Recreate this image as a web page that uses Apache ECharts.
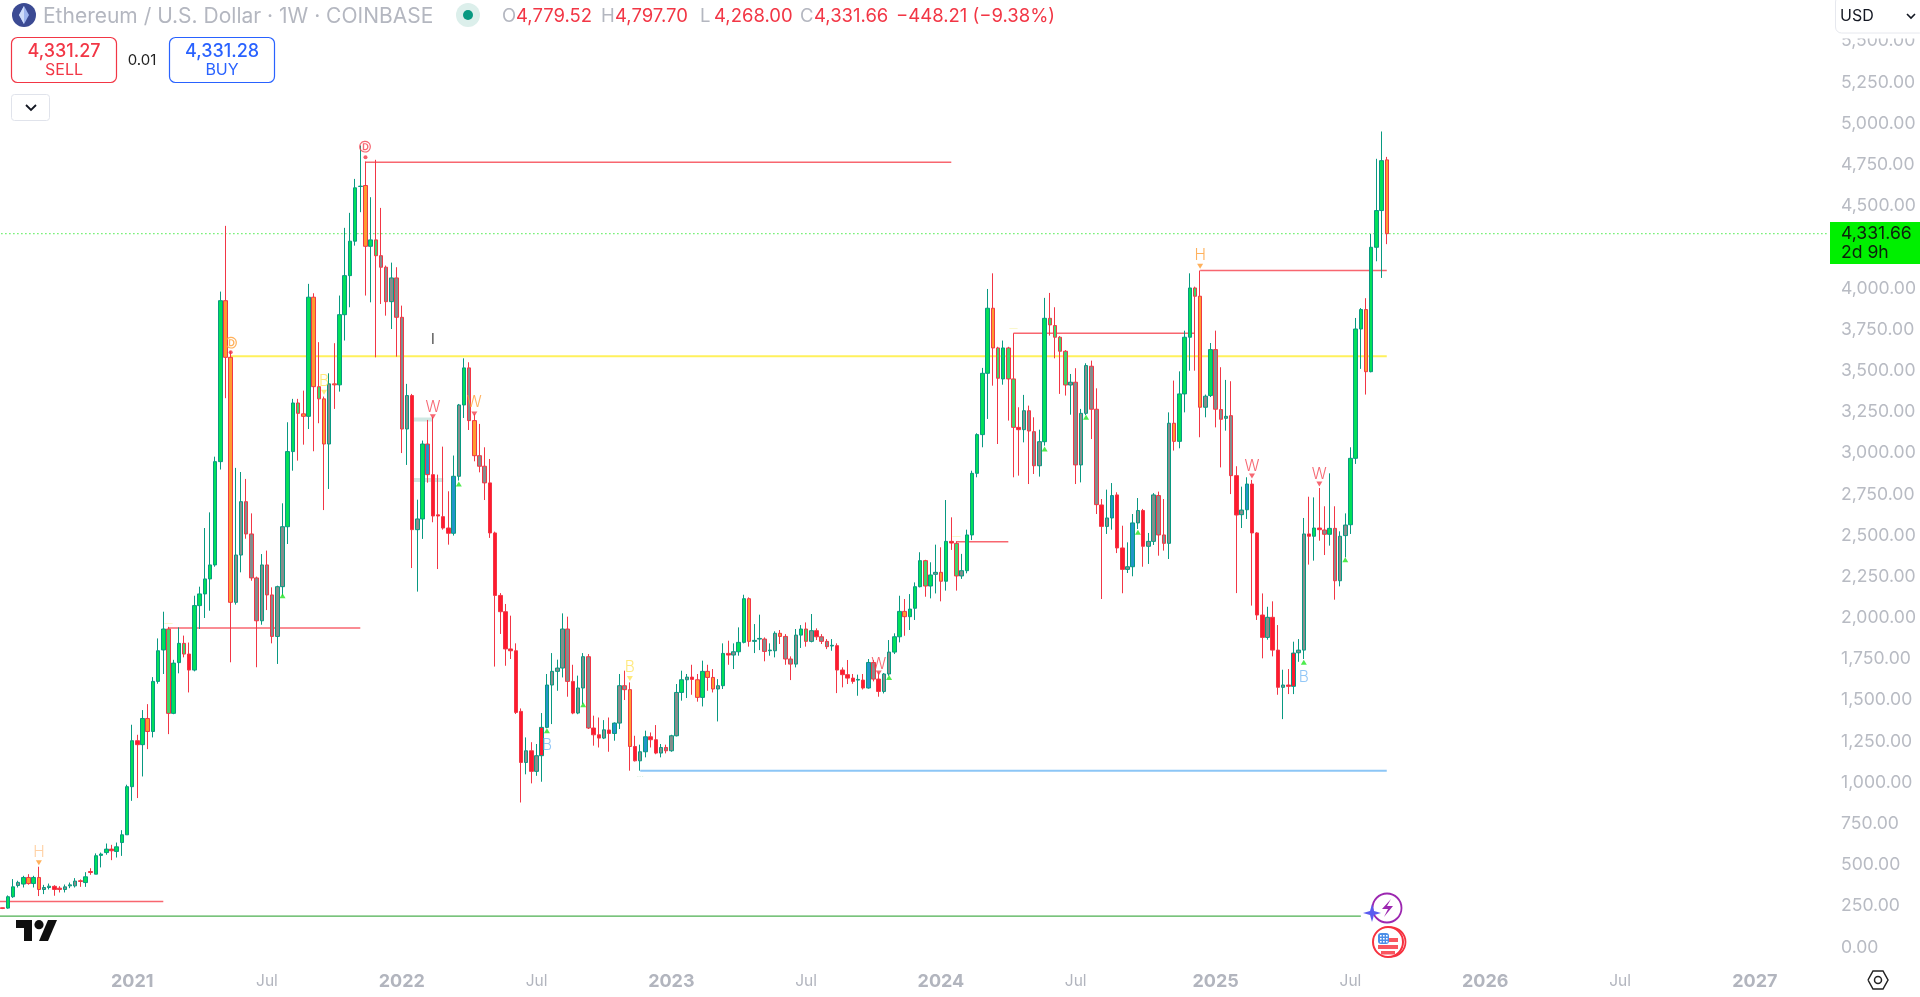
<!DOCTYPE html>
<html>
<head>
<meta charset="utf-8">
<style>html,body{margin:0;padding:0;background:#fff;overflow:hidden}#c{width:1920px;height:997px}</style>
<script src="https://cdn.jsdelivr.net/npm/echarts@6/dist/echarts.min.js"></script>
</head>
<body>
<div id="c"></div>
<script>
// ---------- weekly candles, ETH/USD ----------
const firstWeek = '2020-07-13';
const weekSlots = 353;

const opens = [
240,238,307,375,384,424,387,424,351,363,
370,359,351,373,373,404,393,460,444,558,
575,596,582,636,683,975,1254,1230,1389,1310,
1614,1805,1932,1420,1728,1845,1780,1683,2074,2145,
2236,2321,2948,3925,3581,2094,2381,2705,2509,2242,
1982,2321,2139,1887,2189,2553,3009,3304,3238,3223,
3946,3403,3329,3055,3420,3414,3840,4077,4286,4618,
4624,4255,4294,4198,4128,3919,4063,3824,3146,3349,
2535,2600,3055,2869,2625,2614,2545,2513,2859,3292,
3517,3197,2984,2920,2819,2515,2136,2037,1811,1800,
1432,1122,1193,1068,1163,1335,1592,1675,1695,1932,
1614,1422,1574,1764,1331,1290,1270,1319,1298,1361,
1588,1564,1219,1132,1187,1278,1260,1179,1213,1193,
1284,1547,1624,1640,1624,1517,1675,1638,1568,1588,
1784,1774,1794,1851,2116,1857,1871,1871,1800,1800,
1906,1887,1750,1719,1895,1932,1857,1922,1885,1857,
1829,1831,1683,1655,1634,1622,1622,1574,1729,1628,
1553,1659,1792,1885,2039,2007,2058,2189,2347,2193,
2264,2276,2222,2464,2452,2254,2286,2503,2877,3112,
3484,3879,3638,3450,3638,3450,3156,3142,3257,3130,
2923,3069,3818,3774,3703,3618,3413,3430,2928,3241,
3527,3266,2685,2555,2606,2746,2424,2294,2310,2576,
2651,2434,2464,2742,2503,2452,3181,3071,3359,3703,
4002,3952,3278,3349,3628,3264,3211,3227,2863,2626,
2656,2812,2515,2017,1881,2003,1804,1578,1592,1584,
1788,1804,2509,2495,2545,2533,2507,2543,2225,2499,
2565,2968,3753,3871,3494,4249,4472,4779.52];

const closes = [
236,307,367,394,424,387,424,351,363,371,
351,351,367,379,402,400,428,454,556,566,
596,586,610,683,975,1254,1230,1389,1310,1614,
1800,1932,1420,1725,1845,1780,1683,2074,2145,2236,
2321,2948,3925,3581,2094,2381,2705,2509,2242,1982,
2321,2139,1887,2189,2553,3009,3304,3241,3223,3946,
3403,3329,3055,3420,3414,3840,4077,4286,4610,4620,
4255,4294,4198,4128,3919,4063,3824,3146,3349,2535,
2600,3055,2869,2618,2618,2545,2513,2859,3292,3517,
3197,2984,2920,2819,2515,2136,2037,1811,1800,1426,
1122,1193,1068,1163,1335,1592,1675,1695,1932,1614,
1422,1574,1764,1331,1290,1270,1320,1298,1361,1588,
1564,1219,1132,1187,1278,1260,1179,1213,1193,1284,
1547,1624,1640,1626,1517,1675,1638,1568,1588,1784,
1774,1794,1851,2116,1857,1863,1875,1796,1804,1906,
1887,1750,1719,1895,1932,1857,1922,1885,1857,1825,
1833,1683,1655,1634,1614,1626,1574,1729,1628,1553,
1659,1792,1885,2039,2007,2053,2189,2347,2193,2260,
2276,2222,2464,2454,2254,2286,2503,2877,3112,3484,
3879,3638,3454,3638,3450,3156,3142,3257,3134,2923,
3069,3818,3778,3703,3618,3413,3430,2928,3241,3531,
3266,2687,2555,2606,2742,2424,2294,2310,2576,2651,
2434,2464,2746,2503,2452,3181,3071,3359,3703,4002,
3952,3278,3345,3628,3266,3205,3223,2863,2624,2654,
2812,2515,2017,1881,2003,1804,1578,1592,1584,1786,
1804,2509,2495,2545,2535,2507,2543,2225,2495,2563,
2968,3753,3871,3494,4249,4472,4775,4331.66];

const highs = [
241,315,414,404,434,444,434,489,379,387,
377,371,381,393,420,412,456,480,570,575,
630,622,636,711,987,1351,1290,1440,1476,1640,
1875,2037,1945,1745,1942,1892,1850,2134,2189,2545,
2640,2978,3980,4379,3618,2910,2885,2843,2634,2250,
2387,2408,2185,2195,2695,3187,3329,3329,3379,4027,
3970,3673,3343,3484,3667,3956,4367,4458,4664,4867,
4770,4553,4780,4488,4138,4156,4128,3895,3420,3359,
2717,3076,3201,3219,2869,3039,2768,2985,3298,3575,
3551,3237,3177,3035,2964,2523,2150,2084,2013,1845,
1450,1274,1245,1234,1422,1659,1786,1746,2027,2007,
1715,1649,1786,1780,1406,1395,1379,1395,1365,1659,
1679,1608,1284,1230,1315,1304,1349,1234,1230,1290,
1598,1679,1659,1715,1659,1740,1715,1689,1628,1845,
1861,1845,1942,2140,2124,1962,2019,1881,1845,1918,
1926,1901,1766,1932,1956,1972,2023,1936,1901,1871,
1871,1845,1699,1744,1659,1655,1659,1750,1744,1669,
1665,1865,1906,2134,2114,2144,2215,2398,2352,2337,
2444,2428,2715,2610,2465,2388,2535,2893,3120,3517,
3996,4091,3645,3683,3645,3727,3278,3353,3288,3217,
3142,3942,3972,3885,3710,3625,3480,3515,3268,3545,
3561,3393,2721,2778,2818,2762,2559,2458,2630,2727,
2661,2515,2757,2766,2721,3247,3440,3496,3743,4091,
4010,4108,3355,3668,3743,3521,3444,3436,2920,2796,
2853,2837,2520,2148,2067,2100,1956,1685,1689,1855,
1871,2606,2735,2731,2788,2677,2877,2677,2525,2634,
3035,3820,3880,3940,4330,4786,4952,4797.70];

const lows = [
232,234,300,363,363,380,363,311,323,351,
313,333,333,359,363,367,367,440,444,485,
562,529,545,555,683,889,906,1037,1203,1274,
1600,1659,1294,1415,1663,1760,1547,1675,1932,1999,
2043,2310,2900,3333,1730,2080,2276,2480,2225,1700,
1958,2047,1845,1720,2134,2448,2893,2954,3051,3146,
3011,3181,2654,2782,3268,3373,3683,3885,4259,4462,
3956,3915,3581,3905,3834,3753,3585,3000,2928,2302,
2159,2479,2820,2580,2296,2535,2444,2499,2833,3213,
3140,2950,2883,2715,2485,1704,1902,1709,1750,1416,
879,1050,995,1041,1005,1330,1355,1557,1638,1521,
1415,1415,1477,1325,1224,1213,1264,1187,1254,1325,
1501,1072,1128,1072,1153,1213,1172,1153,1177,1187,
1280,1497,1513,1533,1491,1462,1557,1547,1371,1568,
1715,1689,1770,1845,1825,1786,1804,1736,1770,1760,
1841,1715,1622,1699,1817,1825,1851,1865,1841,1810,
1800,1543,1578,1598,1600,1527,1565,1570,1614,1521,
1541,1648,1780,1851,1891,1926,1987,2185,2128,2118,
2148,2100,2165,2412,2165,2236,2270,2472,2853,3035,
3207,3409,3055,3415,3197,2853,2863,3065,2812,2873,
2857,3045,3713,3575,3359,3349,3233,2812,2822,3230,
3085,2630,2114,2509,2535,2393,2149,2272,2252,2539,
2310,2327,2442,2377,2408,2357,3015,3029,3247,3500,
3500,3096,3217,3340,3156,2913,3136,2751,2150,2545,
2600,2074,1987,1754,1867,1766,1533,1385,1537,1537,
1733,1750,2323,2347,2468,2381,2438,2110,2191,2367,
2509,2934,3511,3355,3490,4164,4063,4268];

// body state of each candle: G strong up, R strong down, N neutral,
// O exhausted, B recovering, M down with up fill
const bodyStates = (
'RGGNGOGONN' + 'RRNNNRGRGG' + 'GRGGGGRGOG' + 'GGMGGMRGGG' + 'GGGOONNNNN' +
'NNNNNGGMOG' + 'OMONOGGGGG' + 'OGMNNNNNNR' + 'NGBRRRRBNG' + 'NONNRRRRRR' +
'RNRNRBNNNN' + 'RNNNRRNRBN' + 'NORNBRRNNN' + 'NGNROGOONG' + 'RNGGONNNNN' +
'ONNNGMNRNN' + 'NRRRRNRBNR' + 'NNGGOGGGMG' + 'NOGRMNGGGG' + 'GOMGMMRNNN' +
'NGMMMMNNNN' + 'NNRNBRRNBN' + 'RNNNNNOGGG' + 'MONGNNNNRN' + 'BRRRNRRNRR' +
'NNRGRNGNNN' + 'GGGOGGGO').split('');

// ---------- axis labels ----------
const tickDates = ['2021-01-04','2021-07-05','2022-01-03','2022-07-04','2023-01-02','2023-07-03',
                   '2024-01-01','2024-07-01','2025-01-06','2025-07-07','2026-01-05','2026-07-06','2027-01-04'];
const tickLabels = ['2021','Jul','2022','Jul','2023','Jul','2024','Jul','2025','Jul','2026','Jul','2027'];

// ---------- horizontal levels: price, first candle, last candle, kind ----------
const levelPrices = [278,1938,4765,3588,2462,3727,4108,1072,189,4331.66,3203,2837];
const levelStarts = [-1,32,70,44,184,195,231,123,-1,-1,79,79];
const levelEnds   = [31,69,183,267,194,230,267,267,262,352,83,85];
const levelKinds  = ['red','red','red','yellow','red','red','red','blue','green','last','pale','pale'];

// ---------- signal letters and markers ----------
const letterIdx   = [7,44,70,83,83,91,62,105,121,169,231,241,254,251];
const letterPrice = [574,3660,4855,3689,3278,3308,3434,1224,1699,1715,4199,2920,2873,1638];
const letterText  = ['H','Ⓓ','Ⓓ','I','W','W','B','B','B','W','H','W','W','B'];
const letterKind  = ['paleOrange','orange','red','black','red','orange','yellow','blue','yellow','red','orange','red','red','blue'];

const downIdx   = [7,62,83,91,121,169,231,241,254];
const downPrice = [513,3369,3221,3237,1632,1665,4134,2861,2812];
const downKind  = ['orange','yellow','red','red','yellow','red','orange','red','red'];
const upIdx     = [54,88,105,112,171,201,209,219,259,251];
const upPrice   = [2134,2812,1314,1472,1638,3025,3217,2519,2353,1730];
const dotIdx    = [44,70];
const dotPrice  = [3612,4796];
const dashIdx   = [32,123,184,195];
const dashPrice = [1966,1035,2493,3753];
const dashText  = ['—','···','—','—'];

// ---------- header texts ----------
const titleText = 'Ethereum / U.S. Dollar · 1W · COINBASE';
const ohlcKeys = ['O','H','L','C'];
const ohlcVals = ['4,779.52','4,797.70','4,268.00','4,331.66'];
const changeText = '−448.21 (−9.38%)';
const sellPrice = '4,331.27', buyPrice = '4,331.28', spreadText = '0.01';
const lastPriceText = '4,331.66', countdownText = '2d 9h', currencyText = 'USD';

// ---------- styles ----------
const FONT = 'Inter, "Noto Sans", sans-serif';
const UP = '#089981', DOWN = '#f23645';
const BODY = {G:'#00e05a',R:'#ff1a2e',N:'#858d8c',O:'#ff9a30',B:'#2196c9',M:'#3fd46a'};
const INK = {paleOrange:'#ffc48c',orange:'#ff9d33',red:'#f4414f',black:'#111111',yellow:'#ffe45c',blue:'#77b9f5'};
const LEVEL = {
  red:{color:'#f8666f',width:1.6}, yellow:{color:'#fff15c',width:2}, blue:{color:'#8cc6f6',width:2},
  green:{color:'#4caf50',width:1.4}, last:{color:'#22e622',width:1.2,type:[1,3]}, pale:{color:'#cfe8e3',width:4}
};

// ---------- build ----------
const weeks = [];
{
  const d0 = new Date(firstWeek + 'T00:00:00Z');
  for (let i = 0; i < weekSlots; i++) {
    weeks.push(new Date(d0.getTime() + i * 7 * 864e5).toISOString().slice(0,10));
  }
}
const tickMap = {};
tickDates.forEach((d,i)=>{tickMap[d]=tickLabels[i];});

const candleData = opens.map((o,i)=>{
  const up = closes[i] >= o;
  const edge = up ? UP : DOWN;
  const fill = BODY[bodyStates[i]];
  return {value:[o,closes[i],lows[i],highs[i]],
          itemStyle:{color:fill,color0:fill,borderColor:edge,borderColor0:edge}};
});

const levelSeries = levelPrices.map((p,i)=>({
  type:'line', silent:true, animation:false, symbol:'none', z:1,
  lineStyle:Object.assign({cap:'butt'},LEVEL[levelKinds[i]]),
  data:[[levelStarts[i],p],[levelEnds[i],p]]
}));

const T = (x,y,text,fill,font,align,valign)=>({type:'text',z:100,silent:true,
  style:{x,y,text,fill,font,textAlign:align||'left',textVerticalAlign:valign||'middle'}});
const R = (x,y,w,h,fill,stroke,lw,r)=>({type:'rect',z:99,silent:true,
  shape:{x,y,width:w,height:h,r:r||0},style:{fill,stroke,lineWidth:lw||0}});
const C = (cx,cy,r,fill,stroke,lw)=>({type:'circle',z:99,silent:true,shape:{cx,cy,r},style:{fill,stroke,lineWidth:lw||0}});
const P = (points,fill,stroke,lw)=>({type:fill?'polygon':'polyline',z:101,silent:true,shape:{points},
  style:{fill:fill||'none',stroke:stroke||'none',lineWidth:lw||0}});

const chrome = [
  // header
  C(24,15,12,'#3b4a93'),
  P([[24,6],[29,15],[24,24],[19,15]],'#9fb5ee'),
  P([[24,6],[24,24],[19,15]],'#cfdcf9'),
  T(43,16.5,titleText,'#b4b7c0','400 21px '+FONT),
  C(468,15,12,'#dcefeb'),
  C(468,15,5,'#089981'),
];
const ohlcX = [502,601,700,800];
ohlcKeys.forEach((k,i)=>{
  chrome.push(T(ohlcX[i],16.5,k,'#b4b7c0','400 18.5px '+FONT));
  chrome.push(T(ohlcX[i]+14,16.5,ohlcVals[i],'#f23645','400 18.5px '+FONT));
});
chrome.push(T(896,16.5,changeText,'#f23645','400 18.5px '+FONT));
chrome.push(
  R(11.5,37.5,105,45,'#fff','#f23645',1.2,6),
  T(64,51.5,sellPrice,'#f23645','500 18px '+FONT,'center'),
  T(64,70,'SELL','#f23645','400 16px '+FONT,'center'),
  T(142,60,spreadText,'#222','400 15px '+FONT,'center'),
  R(169.5,37.5,105,45,'#fff','#2962ff',1.2,6),
  T(222,51.5,buyPrice,'#2962ff','500 18px '+FONT,'center'),
  T(222,70,'BUY','#2962ff','400 16px '+FONT,'center'),
  R(11.5,94.5,38,26,'#fff','#e0e3eb',1,3),
  P([[26,105],[31,110],[36,105]],null,'#131722',1.8),
  // currency box, with the fade that hides the top of the highest price label
  R(1830,30,90,8.5,'#fff'),
  R(1835.5,-4,90,37,'#fff','#e6e8ee',1,6),
  T(1840,16.5,currencyText,'#131722','400 16px '+FONT),
  P([[1907,14],[1911,18],[1915,14]],null,'#131722',1.6),
  // price tag
  R(1830,222,90,42,'#00f000'),
  T(1841,233.5,lastPriceText,'#0c200c','400 17.6px '+FONT),
  T(1841,252.5,countdownText,'#0c200c','400 17.6px '+FONT),
  // settings hexagon
  P([[1868,980],[1873,971],[1883,971],[1888,980],[1883,989],[1873,989],[1868,980]],null,'#222',1.5),
  C(1878,980,3.5,'#fff','#222',1.5),
  // TradingView mark
  P([[32,941],[24,941],[24,928],[16,928],[16,920],[32,920]],'#0f0f0f'),
  P([[48,941],[39,941],[48,920],[57,920]],'#0f0f0f'),
  C(39,924.7,4.6,'#0f0f0f'),
  // event markers
  C(1387,908,14.5,'#fff','#9c27b0',1.8),
  P([[1391,899],[1382,909],[1388,909],[1384,917],[1393,906],[1387,906],[1391,899]],'#9c27b0'),
  P([[1372,904],[1374,911],[1381,913],[1374,915],[1372,922],[1370,915],[1363,913],[1370,911]],'#5b5cf0'),
  C(1391,942,14.5,'#fff','#f6313f',1.8),
  C(1388,942,15,'#fff','#f6313f',2),
  C(1388,942,11.5,'#fff'),
  R(1378,945,20,4,'#f9565f'), R(1381,951,14,3.5,'#f9565f'),
  R(1389,938,9,4,'#f9565f'),
  R(1378,933,11,11,'#4b8ee8',null,0,3),
  R(1380,935,1.6,1.6,'#fff'),R(1383,935,1.6,1.6,'#fff'),R(1386,935,1.6,1.6,'#fff'),
  R(1380,938,1.6,1.6,'#fff'),R(1383,938,1.6,1.6,'#fff'),R(1386,938,1.6,1.6,'#fff'),
  R(1380,941,1.6,1.6,'#fff'),R(1383,941,1.6,1.6,'#fff'),R(1386,941,1.6,1.6,'#fff')
);

const letterFont = t => t==='Ⓓ' ? {fontFamily:'"DejaVu Sans", sans-serif',fontSize:12,fontWeight:700}
                 : t==='I' ? {fontFamily:FONT,fontSize:14,fontWeight:400}
                 : {fontFamily:FONT,fontSize:15.5,fontWeight:300};

const option = {
  animation:false,
  backgroundColor:'#ffffff',
  textStyle:{fontFamily:FONT},
  grid:{left:0,right:90,top:0,bottom:8.5,containLabel:false},
  xAxis:{
    type:'category', data:weeks, boundaryGap:true,
    axisLine:{show:false}, axisTick:{show:false}, splitLine:{show:false},
    axisLabel:{
      inside:true, margin:-1, verticalAlign:'bottom', lineHeight:16,
      interval:(i,v)=>tickMap[v]!==undefined,
      formatter:(v)=>{const t=tickMap[v]; if(t===undefined) return ''; return t==='Jul'?'{m|'+t+'}':'{y|'+t+'}';},
      rich:{
        y:{fontFamily:FONT,fontWeight:700,fontSize:18,color:'#b2b5be'},
        m:{fontFamily:FONT,fontWeight:400,fontSize:15.5,color:'#b2b5be'}
      }
    }
  },
  yAxis:{
    type:'value', position:'right', min:-250, max:5750, interval:250, scale:false,
    axisLine:{show:false}, axisTick:{show:false}, splitLine:{show:false},
    axisLabel:{
      margin:11, align:'left', color:'#b8bbc3', fontFamily:FONT, fontSize:17.6,
      formatter:v=>(v<0||v>5500)?'':v.toLocaleString('en-US',{minimumFractionDigits:2,maximumFractionDigits:2})
    }
  },
  series:[
    ...levelSeries,
    {type:'candlestick', z:3, barWidth:4, data:candleData, silent:true,
     itemStyle:{borderWidth:1}},
    {type:'scatter', z:5, silent:true, symbolSize:0,
     data:letterIdx.map((x,i)=>({value:[x,letterPrice[i]],
       label:Object.assign({show:true,position:'inside',formatter:letterText[i],color:INK[letterKind[i]]},
                           letterFont(letterText[i]))}))},
    {type:'scatter', z:5, silent:true, symbol:'triangle', symbolRotate:180, symbolSize:[6,5],
     data:downIdx.map((x,i)=>({value:[x,downPrice[i]],itemStyle:{color:INK[downKind[i]]}}))},
    {type:'scatter', z:5, silent:true, symbol:'triangle', symbolSize:[6,5],
     itemStyle:{color:'#22e622'}, data:upIdx.map((x,i)=>[x,upPrice[i]])},
    {type:'scatter', z:5, silent:true, symbol:'circle', symbolSize:4,
     itemStyle:{color:'#f23645'}, data:dotIdx.map((x,i)=>[x,dotPrice[i]])},
    {type:'scatter', z:4, silent:true, symbolSize:0,
     data:dashIdx.map((x,i)=>({value:[x,dashPrice[i]],
       label:{show:true,position:'inside',formatter:dashText[i],color:i===1?'#bfe6c8':'#f6f0a0',fontSize:8}}))}
  ],
  graphic:chrome
};
const chart = echarts.init(document.getElementById('c'),null,{renderer:'canvas'});
chart.setOption(option);
</script>
</body>
</html>
